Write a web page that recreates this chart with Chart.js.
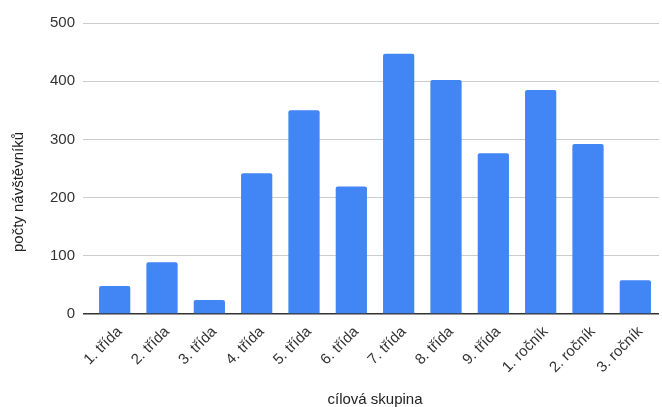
<!DOCTYPE html>
<html><head><meta charset="utf-8">
<script src="https://cdn.jsdelivr.net/npm/chart.js@4"></script>
<style>html,body{margin:0;padding:0;background:#fff}#w{width:662px;height:407px;position:relative}</style>
</head><body><div id="w"><canvas id="c"></canvas></div>
<script>
const categories = ["1. třída","2. třída","3. třída","4. třída","5. třída","6. třída","7. třída","8. třída","9. třída","1. ročník","2. ročník","3. ročník"];
const visitors = [48, 89, 24, 242, 350, 219, 447, 402, 276, 385, 292, 58];
const yMin = 0, yMax = 500, yStep = 100;
const xTitle = "cílová skupina";
const yTitle = "počty návštěvníků";

const FONT = '"Liberation Sans", Arial, sans-serif';

const yTitlePlugin = {
  id: 'yTitle',
  afterDraw(chart) {
    const ctx = chart.ctx;
    ctx.save();
    ctx.fillStyle = '#222';
    ctx.font = '15px ' + FONT;
    ctx.translate(18.5, 192);
    ctx.rotate(-Math.PI / 2);
    ctx.textAlign = 'center';
    ctx.textBaseline = 'middle';
    ctx.fillText(yTitle, 0, 0);
    ctx.restore();
  }
};

new Chart(document.getElementById('c'), {
  type: 'bar',
  data: {
    labels: categories,
    datasets: [{
      data: visitors,
      backgroundColor: '#4285F4',
      barPercentage: 0.66,
      categoryPercentage: 1,
      borderRadius: 2
    }]
  },
  options: {
    responsive: true,
    maintainAspectRatio: false,
    animation: false,
    layout: { padding: { top: 23, right: 3, left: 0, bottom: 0 } },
    plugins: { legend: { display: false }, tooltip: { enabled: false } },
    scales: {
      x: {
        offset: true,
        grid: { display: false, drawTicks: false },
        border: { display: false },
        ticks: { minRotation: 45, maxRotation: 45, autoSkip: false, padding: 9, labelOffset: 5,
                 color: '#333', font: { family: FONT, size: 15 } },
        title: { display: true, text: xTitle, color: '#222', padding: { top: 0, bottom: 0 },
                 font: { family: FONT, size: 15, lineHeight: 1 } },
        afterFit: s => { s.height = 93; }
      },
      y: {
        min: yMin, max: yMax,
        ticks: { stepSize: yStep, padding: 8, color: '#333', font: { family: FONT, size: 15 } },
        grid: {
          color: c => c.tick && c.tick.value === 0 ? '#333' : '#ccc',
          lineWidth: c => c.tick && c.tick.value === 0 ? 1.5 : 1,
          tickLength: 8, drawTicks: true
        },
        border: { display: false },
        afterFit: s => { s.width = 91; }
      }
    }
  },
  plugins: [yTitlePlugin]
});
</script>
</body></html>
